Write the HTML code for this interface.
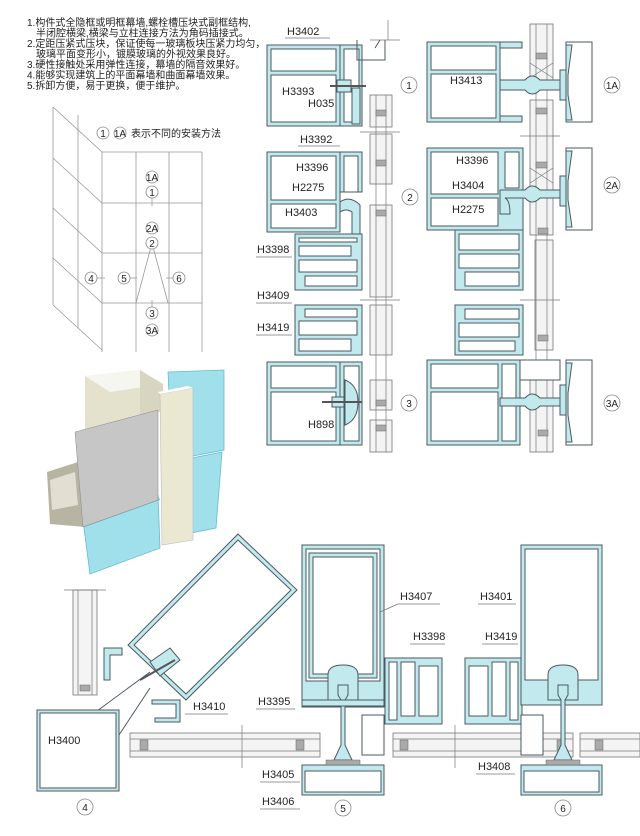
<!DOCTYPE html>
<html><head><meta charset="utf-8"><style>
html,body{margin:0;padding:0;background:#fff;}
svg{display:block;}
text{font-family:"Liberation Sans","Noto Sans CJK SC",sans-serif;fill:#222;}
.c{fill:#c2eaee;stroke:#4a5a60;stroke-width:1;}
.w{fill:#fff;stroke:#4a5a60;stroke-width:1;}
.n{fill:none;stroke:#4a5a60;stroke-width:1;}
.g{fill:none;stroke:#999;stroke-width:0.8;}
.gl{fill:#f4f4f4;stroke:#777;stroke-width:0.8;}
.l{fill:none;stroke:#777;stroke-width:0.7;}
.lb{font-size:11px;}
.cir{fill:#fff;stroke:#888;stroke-width:0.8;}
.cn{font-size:10px;text-anchor:middle;}
.gasket{fill:#aaa;stroke:#666;stroke-width:0.5;}
</style></head><body>
<svg width="640" height="836" viewBox="0 0 640 836" xmlns="http://www.w3.org/2000/svg">
<!-- top text -->
<g font-size="10">
<text x="27" y="26">1.构件式全隐框或明框幕墙,螺栓槽压块式副框结构,</text>
<text x="36" y="36.5">半闭腔横梁,横梁与立柱连接方法为角码插接式。</text>
<text x="27" y="47">2.定距压紧式压块，保证使每一玻璃板块压紧力均匀，</text>
<text x="36" y="57.5">玻璃平面变形小，镀膜玻璃的外视效果良好。</text>
<text x="27" y="68">3.硬性接触处采用弹性连接，幕墙的隔音效果好。</text>
<text x="27" y="78.5">4.能够实现建筑上的平面幕墙和曲面幕墙效果。</text>
<text x="27" y="89">5.拆卸方便，易于更换，便于维护。</text>
</g>

<!-- grid -->
<g class="g">
<line x1="102" y1="152" x2="202" y2="152"/><line x1="102" y1="203" x2="202" y2="203"/><line x1="102" y1="253" x2="202" y2="253"/><line x1="102" y1="303" x2="202" y2="303"/>
<line x1="102" y1="152" x2="102" y2="352"/><line x1="136" y1="152" x2="136" y2="352"/><line x1="169" y1="152" x2="169" y2="352"/><line x1="202" y1="152" x2="202" y2="352"/>
<line x1="53" y1="107" x2="53" y2="305"/><line x1="78" y1="115" x2="78" y2="328"/>
<line x1="53" y1="107" x2="102" y2="152"/><line x1="53" y1="158" x2="102" y2="203"/><line x1="53" y1="208" x2="102" y2="253"/><line x1="53" y1="258" x2="102" y2="303"/><line x1="53" y1="305" x2="102" y2="350"/>
<line x1="152" y1="243" x2="136" y2="303"/><line x1="152" y1="243" x2="168" y2="303"/>
<line x1="152" y1="198" x2="152" y2="206"/><line x1="152" y1="300" x2="152" y2="307"/>
<line x1="97" y1="278" x2="105" y2="278"/><line x1="130" y1="278" x2="137" y2="278"/><line x1="166" y1="278" x2="174" y2="278"/>
</g>
<g>
<circle class="cir" cx="103" cy="133" r="6"/><text class="cn" x="103" y="137">1</text>
<circle class="cir" cx="120" cy="133" r="6"/><text class="cn" x="120" y="137">1A</text>
<text x="131" y="137" font-size="10">表示不同的安装方法</text>
<circle class="cir" cx="152" cy="177" r="6"/><text class="cn" x="152" y="181">1A</text>
<circle class="cir" cx="152" cy="192" r="6"/><text class="cn" x="152" y="196">1</text>
<circle class="cir" cx="152" cy="228" r="6"/><text class="cn" x="152" y="232">2A</text>
<circle class="cir" cx="152" cy="243" r="6"/><text class="cn" x="152" y="247">2</text>
<circle class="cir" cx="91" cy="278" r="6"/><text class="cn" x="91" y="282">4</text>
<circle class="cir" cx="124" cy="278" r="6"/><text class="cn" x="124" y="282">5</text>
<circle class="cir" cx="179" cy="278" r="6"/><text class="cn" x="179" y="282">6</text>
<circle class="cir" cx="152" cy="313" r="6"/><text class="cn" x="152" y="317">3</text>
<circle class="cir" cx="152" cy="330" r="6"/><text class="cn" x="152" y="334">3A</text>
</g>

<!-- 3D illustration -->
<g>
<polygon points="168,372 224,370 224,450 172,460" fill="#9fe0ea" stroke="#6bc" stroke-width="0.8"/>
<polygon points="172,462 222,452 216,528 176,536" fill="#9fe0ea" stroke="#6bc" stroke-width="0.8"/>
<polygon points="85,376 140,370 140,435 85,440" fill="#e4e2cc"/>
<polygon points="85,376 140,370 163,384 110,392" fill="#f6f6f0"/>
<polygon points="140,370 163,384 163,410 140,420" fill="#d8d6c0"/>
<polygon points="83,520 158,495 160,548 90,574" fill="#9fe0ea" stroke="#6bc" stroke-width="0.8"/>
<polygon points="83,520 158,495 160,500 85,527" fill="#6fcad8"/>
<polygon points="47,472 78,462 85,527 50,524" fill="#b8b4a4"/>
<polygon points="50,480 75,472 78,505 52,510" fill="#e2dfd2"/>
<polygon points="75,432 158,410 158,500 83,527" fill="#c6c6c6" stroke="#888" stroke-width="0.5"/>
<polygon points="160,394 193,388 193,540 162,545" fill="#ebe8d2" stroke="#bbb" stroke-width="0.6"/>
<polygon points="160,394 193,388 188,386 158,392" fill="#fff"/>
</g>

<!-- middle column glass strips -->
<g>
<rect class="gl" x="370" y="95" width="22" height="32"/>
<rect class="gl" x="370" y="134" width="22" height="50"/>
<rect class="gl" x="370" y="205" width="22" height="92"/>
<rect class="gl" x="370" y="305" width="22" height="50"/>
<rect class="gl" x="370" y="380" width="22" height="30"/>
<rect class="gl" x="370" y="420" width="22" height="32"/>
<line class="l" x1="376" y1="95" x2="376" y2="452"/><line class="l" x1="386" y1="95" x2="386" y2="452"/>
<rect class="gasket" x="376" y="110" width="10" height="6"/><rect class="gasket" x="376" y="160" width="10" height="6"/>
<rect class="gasket" x="376" y="210" width="10" height="6"/><rect class="gasket" x="376" y="400" width="10" height="6"/><rect class="gasket" x="376" y="425" width="10" height="6"/>
<line class="l" x1="360" y1="132" x2="400" y2="132"/><line class="l" x1="360" y1="300" x2="400" y2="300"/>
<line class="l" x1="388" y1="20" x2="388" y2="40"/><line class="l" x1="370" y1="40" x2="400" y2="40"/>
</g>

<!-- Section 1 -->
<g>
<rect class="c" x="267" y="45" width="73" height="81"/>
<rect class="w" x="271" y="49" width="65" height="22"/>
<rect class="w" x="271" y="75" width="65" height="47"/>
<rect class="c" x="340" y="45" width="22" height="81"/>
<rect class="w" x="344" y="49" width="15" height="73"/>
<path class="n" d="M357,40 L357,60 L385,60 L385,40 M380,40 L375,48"/>
<rect class="c" x="337" y="80" width="14" height="12"/>
<line x1="330" y1="86" x2="366" y2="86" stroke="#555" stroke-width="2"/>
<rect class="c" x="352" y="88" width="8" height="36"/>
<text class="lb" x="287" y="35">H3402</text><line class="l" x1="285" y1="38" x2="330" y2="38"/>
<text class="lb" x="282" y="95">H3393</text>
<text class="lb" x="308" y="107">H035</text>
<circle class="cir" cx="409" cy="85" r="8"/><text class="cn" x="409" y="89">1</text>
</g>

<!-- Section 2 -->
<g>
<rect class="c" x="267" y="152" width="73" height="80"/>
<rect class="w" x="271" y="156" width="65" height="44"/>
<rect class="w" x="271" y="204" width="65" height="24"/>
<rect class="c" x="340" y="152" width="22" height="40"/>
<rect class="w" x="344" y="156" width="14" height="36"/>
<path class="c" d="M340,202 Q350,195 360,205 L360,235 L352,235 L352,212 Q346,208 340,212 Z"/>
<text class="lb" x="300" y="143">H3392</text><line class="l" x1="298" y1="146" x2="340" y2="146"/>
<text class="lb" x="296" y="171">H3396</text>
<text class="lb" x="292" y="191">H2275</text>
<text class="lb" x="285" y="216">H3403</text>
<circle class="cir" cx="410" cy="197" r="8"/><text class="cn" x="410" y="201">2</text>
</g>

<!-- H3398 / H3409 / H3419 -->
<g>
<rect class="c" x="295" y="234" width="67" height="56"/>
<rect class="w" x="299" y="238" width="58" height="4"/>
<rect class="w" x="299" y="246" width="52" height="10"/>
<rect class="w" x="299" y="260" width="58" height="12"/>
<rect class="w" x="305" y="276" width="52" height="10"/>
<rect class="c" x="295" y="305" width="67" height="50"/>
<rect class="w" x="305" y="309" width="52" height="8"/>
<rect class="w" x="299" y="321" width="58" height="14"/>
<rect class="w" x="299" y="339" width="52" height="12"/>
<text class="lb" x="257" y="253">H3398</text><line class="l" x1="256" y1="257" x2="292" y2="257"/>
<text class="lb" x="257" y="299">H3409</text><line class="l" x1="256" y1="303" x2="292" y2="303"/>
<text class="lb" x="257" y="331">H3419</text><line class="l" x1="256" y1="335" x2="292" y2="335"/>
</g>

<!-- Section 3 -->
<g>
<rect class="c" x="267" y="362" width="73" height="83"/>
<rect class="w" x="271" y="366" width="65" height="22"/>
<rect class="w" x="271" y="392" width="65" height="49"/>
<rect class="c" x="340" y="362" width="22" height="83"/>
<rect class="w" x="344" y="366" width="15" height="75"/>
<path class="c" d="M345,380 Q358,385 358,402 Q358,420 345,425 Z"/>
<rect class="c" x="332" y="397" width="12" height="10"/>
<line x1="322" y1="402" x2="362" y2="402" stroke="#555" stroke-width="2"/>
<text class="lb" x="308" y="428">H898</text>
<circle class="cir" cx="409" cy="403" r="8"/><text class="cn" x="409" y="407">3</text>
</g>

<!-- right column glass -->
<g>
<rect class="gl" x="530" y="24" width="23" height="60"/>
<rect class="gl" x="530" y="100" width="23" height="135"/>
<rect class="gl" x="535" y="240" width="18" height="110"/>
<rect class="gl" x="530" y="380" width="23" height="72"/>
<line class="l" x1="536" y1="24" x2="536" y2="452"/><line class="l" x1="547" y1="24" x2="547" y2="452"/>
<rect class="gasket" x="536" y="53" width="11" height="6"/><rect class="gasket" x="536" y="108" width="11" height="6"/>
<rect class="gasket" x="536" y="162" width="11" height="6"/><rect class="gasket" x="538" y="228" width="10" height="6"/>
<rect class="gasket" x="538" y="335" width="10" height="6"/><rect class="gasket" x="538" y="430" width="10" height="6"/>
<path class="l" d="M530,63 L553,78 M553,63 L530,78 M530,168 L553,183 M553,168 L530,183"/>
<line class="l" x1="520" y1="136" x2="560" y2="136"/><line class="l" x1="520" y1="300" x2="560" y2="300"/>
</g>

<!-- Section 1A -->
<g>
<rect class="c" x="427" y="42" width="73" height="80"/>
<rect class="w" x="431" y="46" width="65" height="24"/>
<rect class="w" x="431" y="74" width="65" height="44"/>
<rect class="c" x="500" y="42" width="22" height="6"/>
<rect class="c" x="500" y="116" width="22" height="6"/>
<path class="c" d="M500,80 L525,80 Q532,72 540,80 L562,80 L562,90 L540,90 Q532,98 525,90 L500,90 Z"/>
<rect class="c" x="560" y="70" width="6" height="30"/>
<rect class="w" x="566" y="42" width="26" height="80"/>
<path class="c" d="M566,45 L572,45 L568,75 L568,95 L572,120 L566,120 Z"/>
<text class="lb" x="450" y="84">H3413</text>
<circle class="cir" cx="612" cy="85" r="8"/><text class="cn" x="612" y="89">1A</text>
</g>

<!-- Section 2A -->
<g>
<rect class="c" x="427" y="148" width="96" height="82"/>
<rect class="w" x="431" y="152" width="67" height="42"/>
<rect class="w" x="431" y="198" width="67" height="28"/>
<rect class="w" x="505" y="152" width="14" height="36"/>
<path class="c" d="M500,190 L525,190 Q532,182 540,190 L562,190 L562,198 L540,198 Q532,206 525,198 L505,198 Q510,200 510,214 L500,214 Z"/>
<rect class="c" x="560" y="176" width="6" height="30"/>
<rect class="w" x="566" y="148" width="26" height="82"/>
<path class="c" d="M566,151 L572,151 L568,181 L568,200 L572,227 L566,227 Z"/>
<text class="lb" x="456" y="164">H3396</text>
<text class="lb" x="452" y="189">H3404</text>
<text class="lb" x="452" y="213">H2275</text>
<circle class="cir" cx="612" cy="185" r="8"/><text class="cn" x="612" y="189">2A</text>
</g>

<!-- right middle profiles -->
<g>
<rect class="c" x="455" y="230" width="68" height="60"/>
<rect class="w" x="459" y="234" width="60" height="16"/>
<rect class="w" x="459" y="254" width="60" height="14"/>
<rect class="w" x="465" y="272" width="54" height="14"/>
<rect class="c" x="455" y="305" width="68" height="50"/>
<rect class="w" x="465" y="309" width="54" height="10"/>
<rect class="w" x="459" y="323" width="60" height="14"/>
<rect class="w" x="459" y="341" width="56" height="10"/>
</g>

<!-- Section 3A -->
<g>
<rect class="c" x="427" y="360" width="93" height="85"/>
<rect class="w" x="431" y="364" width="67" height="24"/>
<rect class="w" x="431" y="392" width="67" height="49"/>
<rect class="w" x="502" y="364" width="14" height="77"/>
<rect class="w" x="520" y="360" width="40" height="20"/>
<path class="c" d="M500,398 L525,398 Q532,390 540,398 L562,398 L562,406 L540,406 Q532,414 525,406 L500,406 Z"/>
<rect class="c" x="560" y="385" width="6" height="30"/>
<rect class="w" x="566" y="360" width="26" height="85"/>
<path class="c" d="M566,363 L572,363 L568,393 L568,415 L572,442 L566,442 Z"/>
<circle class="cir" cx="612" cy="403" r="8"/><text class="cn" x="612" y="407">3A</text>
</g>

<!-- bottom left section 4 -->
<g>
<rect class="gl" x="73" y="590" width="24" height="105"/>
<line class="l" x1="78" y1="590" x2="78" y2="695"/><line class="l" x1="92" y1="590" x2="92" y2="695"/>
<rect class="gasket" x="80" y="685" width="10" height="6"/>
<line class="l" x1="64" y1="590" x2="106" y2="590"/>
<polygon class="c" points="238,534 297,590 186,700 128,645"/>
<polygon class="w" points="238,540 291,590 186,694 134,645"/>
<polygon class="c" points="150,662 170,648 180,660 160,676"/>
<line x1="140" y1="680" x2="175" y2="660" stroke="#555" stroke-width="2"/>
<path class="c" d="M104,648 L122,648 L122,655 L110,655 L110,680 L104,680 Z"/>
<path class="c" d="M152,700 L180,700 L180,722 L155,722 L155,718 L176,718 L176,704 L152,704 Z"/>
<line class="n" x1="97" y1="711" x2="150" y2="672"/><line class="n" x1="119" y1="735" x2="150" y2="688"/>
<rect class="c" x="37" y="710" width="82" height="81"/>
<rect class="w" x="40" y="713" width="76" height="75"/>
<text class="lb" x="48" y="744">H3400</text>
<text class="lb" x="193" y="710">H3410</text><line class="l" x1="185" y1="714" x2="228" y2="714"/>
<circle class="cir" cx="85" cy="807" r="8"/><text class="cn" x="85" y="811">4</text>
</g>

<!-- horizontal glass bottom -->
<g>
<rect class="gl" x="130" y="733" width="190" height="24"/>
<rect class="gl" x="393" y="733" width="180" height="24"/>
<rect class="gl" x="580" y="733" width="60" height="24"/>
<line class="l" x1="130" y1="739" x2="320" y2="739"/><line class="l" x1="130" y1="751" x2="320" y2="751"/>
<line class="l" x1="393" y1="739" x2="573" y2="739"/><line class="l" x1="393" y1="751" x2="573" y2="751"/>
<line class="l" x1="580" y1="739" x2="640" y2="739"/><line class="l" x1="580" y1="751" x2="640" y2="751"/>
<rect class="gasket" x="140" y="740" width="8" height="10"/><rect class="gasket" x="296" y="740" width="8" height="10"/>
<rect class="gasket" x="400" y="740" width="8" height="10"/><rect class="gasket" x="557" y="740" width="8" height="10"/><rect class="gasket" x="595" y="740" width="8" height="10"/>
<line class="l" x1="242" y1="725" x2="242" y2="768"/><line class="l" x1="455" y1="725" x2="455" y2="768"/>
</g>

<!-- Section 5 -->
<g>
<rect class="c" x="302" y="545" width="82" height="162"/>
<rect class="w" x="306" y="549" width="74" height="132"/>
<rect class="c" x="309" y="553" width="68" height="125"/>
<rect class="w" x="313" y="557" width="60" height="117"/>
<path class="c" d="M328,700 L328,675 Q328,665 343,665 Q358,665 358,675 L358,700 Z"/>
<path class="c" d="M338,685 L348,685 L348,695 L345,700 L345,745 L352,760 L334,760 L341,745 L341,700 L338,695 Z"/>
<rect class="c" x="302" y="700" width="82" height="6"/>
<rect class="w" x="362" y="715" width="22" height="40"/>
<rect class="c" x="302" y="765" width="82" height="30"/>
<rect class="w" x="305" y="771" width="76" height="21"/>
<rect class="gasket" x="326" y="760" width="34" height="5"/>
<text class="lb" x="400" y="600">H3407</text><line class="l" x1="398" y1="604" x2="440" y2="604"/><line class="l" x1="398" y1="604" x2="380" y2="612"/>
<circle class="cir" cx="343" cy="808" r="8"/><text class="cn" x="343" y="812">5</text>
</g>

<!-- H3398 / H3419 bottom -->
<g>
<rect class="c" x="385" y="658" width="57" height="66"/>
<rect class="w" x="389" y="662" width="8" height="58"/>
<rect class="w" x="401" y="662" width="14" height="54"/>
<rect class="w" x="419" y="666" width="19" height="50"/>
<rect class="c" x="465" y="658" width="57" height="66"/>
<rect class="w" x="469" y="666" width="19" height="50"/>
<rect class="w" x="492" y="662" width="14" height="54"/>
<rect class="w" x="510" y="662" width="8" height="58"/>
<text class="lb" x="413" y="640">H3398</text><line class="l" x1="410" y1="644" x2="445" y2="644"/>
<text class="lb" x="485" y="640">H3419</text><line class="l" x1="482" y1="644" x2="518" y2="644"/>
<text class="lb" x="258" y="705">H3395</text><line class="l" x1="256" y1="709" x2="295" y2="709"/>
<text class="lb" x="262" y="778">H3405</text><line class="l" x1="260" y1="782" x2="300" y2="782"/>
<text class="lb" x="262" y="805">H3406</text><line class="l" x1="260" y1="809" x2="300" y2="809"/>
</g>

<!-- Section 6 -->
<g>
<rect class="c" x="521" y="545" width="81" height="160"/>
<rect class="w" x="525" y="549" width="73" height="131"/>
<path class="c" d="M548,700 L548,675 Q548,665 563,665 Q578,665 578,675 L578,700 Z"/>
<path class="c" d="M558,685 L568,685 L568,695 L565,700 L565,745 L572,760 L554,760 L561,745 L561,700 L558,695 Z"/>
<rect class="w" x="521" y="715" width="22" height="40"/>
<rect class="c" x="521" y="765" width="81" height="30"/>
<rect class="w" x="524" y="771" width="75" height="21"/>
<rect class="gasket" x="546" y="760" width="34" height="5"/>
<text class="lb" x="480" y="600">H3401</text><line class="l" x1="478" y1="604" x2="516" y2="604"/>
<text class="lb" x="478" y="770">H3408</text><line class="l" x1="476" y1="774" x2="515" y2="774"/>
<circle class="cir" cx="563" cy="808" r="8"/><text class="cn" x="563" y="812">6</text>
</g>
</svg>
</body></html>
